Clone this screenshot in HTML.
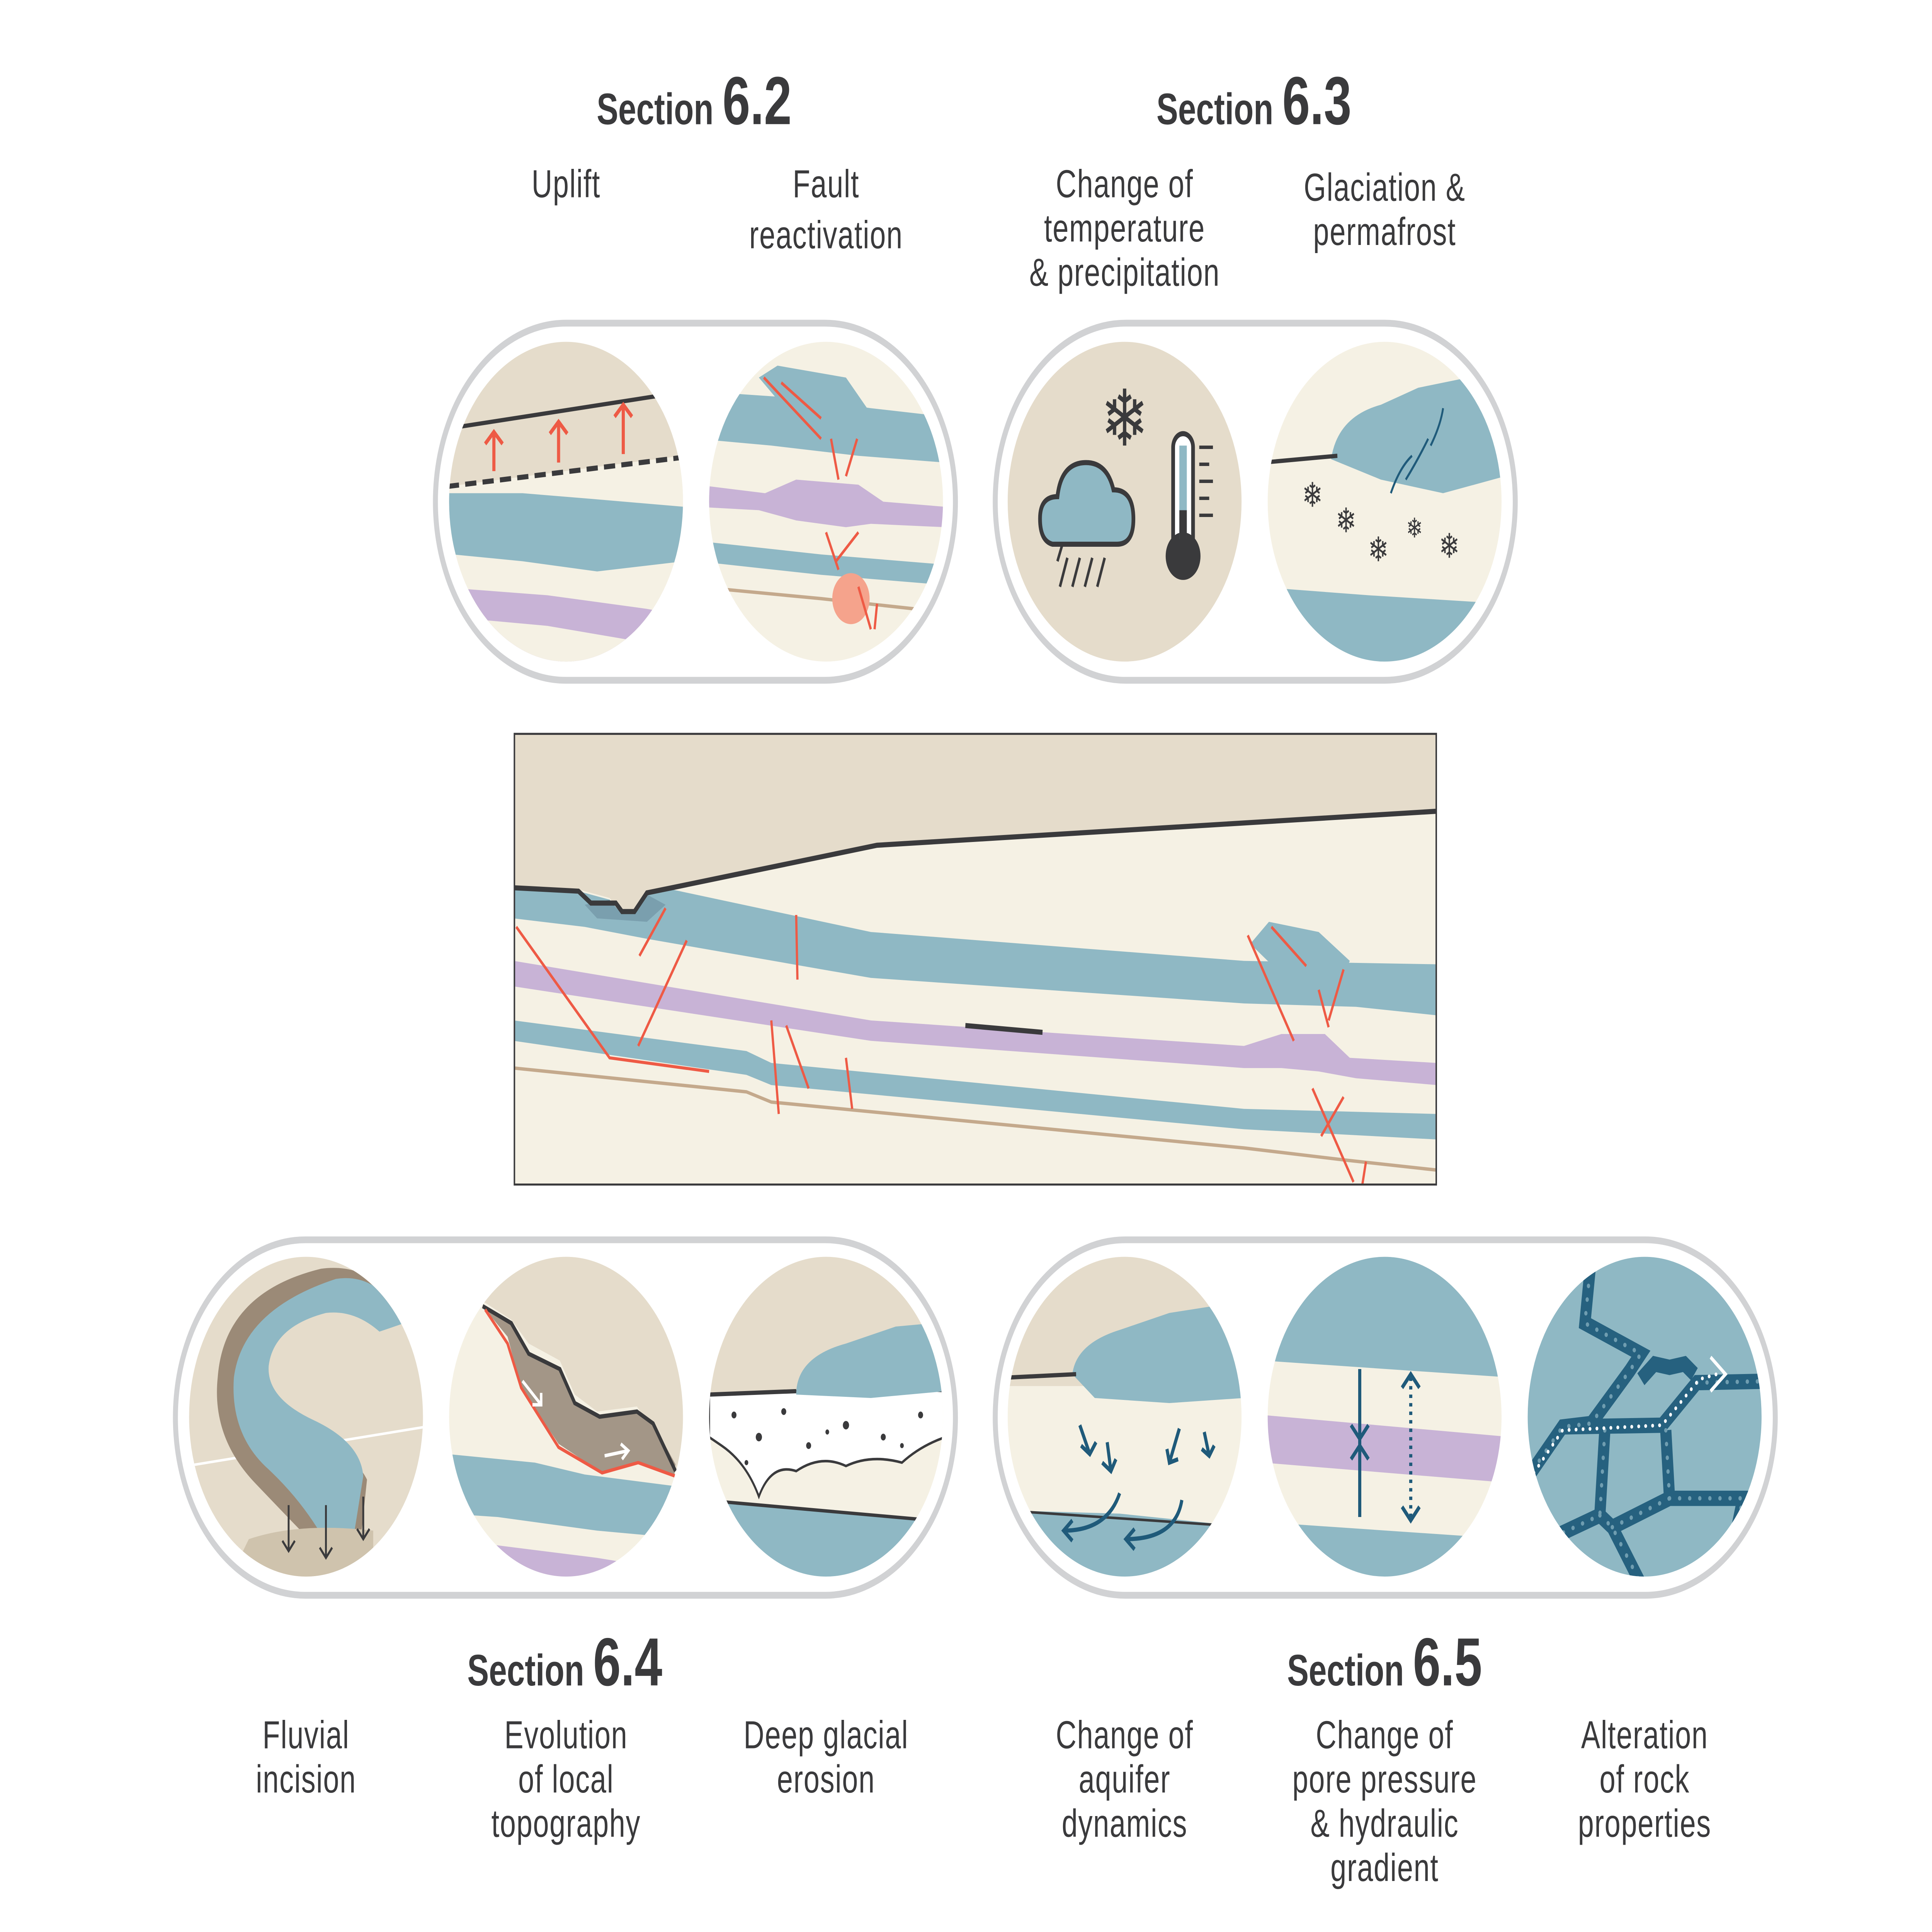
<!DOCTYPE html>
<html><head><meta charset="utf-8">
<style>
html,body{margin:0;padding:0;background:#fff;width:100%;height:100%;overflow:hidden;}
svg{display:block;position:absolute;left:0;top:0;width:100vw;height:100vh;}
text{font-family:"Liberation Sans",sans-serif;fill:#3a3a3c;}
.lab{font-size:23px;text-anchor:middle;letter-spacing:0.5px;}
.sec{font-weight:bold;text-anchor:middle;}
</style></head>
<body>
<svg viewBox="0 0 1553 1136" preserveAspectRatio="none" xmlns="http://www.w3.org/2000/svg">
<defs>
<clipPath id="c1"><circle cx="455" cy="295" r="94"/></clipPath>
<clipPath id="c2"><circle cx="664" cy="295" r="94"/></clipPath>
<clipPath id="c3"><circle cx="904" cy="295" r="94"/></clipPath>
<clipPath id="c4"><circle cx="1113" cy="295" r="94"/></clipPath>
<clipPath id="d1"><circle cx="246" cy="833" r="94"/></clipPath>
<clipPath id="d2"><circle cx="455" cy="833" r="94"/></clipPath>
<clipPath id="d3"><circle cx="664" cy="833" r="94"/></clipPath>
<clipPath id="d4"><circle cx="904" cy="833" r="94"/></clipPath>
<clipPath id="d5"><circle cx="1113" cy="833" r="94"/></clipPath>
<clipPath id="d6"><circle cx="1322" cy="833" r="94"/></clipPath>
<clipPath id="main"><rect x="414" y="432" width="740" height="264"/></clipPath>
</defs>
<rect width="1553" height="1136" fill="#fff"/>

<text x="558" y="73" class="sec"><tspan font-size="26">Section </tspan><tspan font-size="40">6.2</tspan></text>
<text x="1008" y="73" class="sec"><tspan font-size="26">Section </tspan><tspan font-size="40">6.3</tspan></text>
<text x="454" y="991" class="sec"><tspan font-size="26">Section </tspan><tspan font-size="40">6.4</tspan></text>
<text x="1113" y="991" class="sec"><tspan font-size="26">Section </tspan><tspan font-size="40">6.5</tspan></text>

<text class="lab" x="455" y="116">Uplift</text>
<text class="lab" x="664" y="116">Fault</text>
<text class="lab" x="664" y="146">reactivation</text>
<text class="lab" x="904" y="116">Change of</text>
<text class="lab" x="904" y="142">temperature</text>
<text class="lab" x="904" y="168">&amp; precipitation</text>
<text class="lab" x="1113" y="118">Glaciation &amp;</text>
<text class="lab" x="1113" y="144">permafrost</text>

<text class="lab" x="246" y="1028">Fluvial</text>
<text class="lab" x="246" y="1054">incision</text>
<text class="lab" x="455" y="1028">Evolution</text>
<text class="lab" x="455" y="1054">of local</text>
<text class="lab" x="455" y="1080">topography</text>
<text class="lab" x="664" y="1028">Deep glacial</text>
<text class="lab" x="664" y="1054">erosion</text>
<text class="lab" x="904" y="1028">Change of</text>
<text class="lab" x="904" y="1054">aquifer</text>
<text class="lab" x="904" y="1080">dynamics</text>
<text class="lab" x="1113" y="1028">Change of</text>
<text class="lab" x="1113" y="1054">pore pressure</text>
<text class="lab" x="1113" y="1080">&amp; hydraulic</text>
<text class="lab" x="1113" y="1106">gradient</text>
<text class="lab" x="1322" y="1028">Alteration</text>
<text class="lab" x="1322" y="1054">of rock</text>
<text class="lab" x="1322" y="1080">properties</text>

<rect x="350" y="190" width="418" height="210" rx="105" fill="#fff" stroke="#d1d2d4" stroke-width="4"/>
<rect x="800" y="190" width="418" height="210" rx="105" fill="#fff" stroke="#d1d2d4" stroke-width="4"/>
<rect x="141" y="729" width="627" height="209" rx="104.5" fill="#fff" stroke="#d1d2d4" stroke-width="4"/>
<rect x="800" y="729" width="627" height="209" rx="104.5" fill="#fff" stroke="#d1d2d4" stroke-width="4"/>

<g clip-path="url(#c1)">
<rect x="350" y="190" width="220" height="220" fill="#e5dccb"/>
<polygon points="350,287 548,268 560,268 560,400 350,400" fill="#f5f1e4"/>
<path d="M350,290 L420,290 L470,293 L550,298 L550,330 L480,336 L420,330 L350,325 Z" fill="#8fb8c4"/>
<path d="M350,345 L440,350 L520,358 L550,362 L550,400 L350,400 Z" fill="#c8b3d6"/>
<path d="M350,362 L440,368 L520,378 L550,385 L550,400 L350,400 Z" fill="#f5f1e4"/>
<line x1="360" y1="252" x2="527" y2="233" stroke="#3a3a3c" stroke-width="2.5"/>
<line x1="360" y1="286" x2="548" y2="269" stroke="#3a3a3c" stroke-width="3" stroke-dasharray="9,5"/>
<g stroke="#ee5a45" stroke-width="2.5" fill="none">
<path d="M397,277 V254 M390,261 L397,254 L404,261"/>
<path d="M449,272 V248 M442,255 L449,248 L456,255"/>
<path d="M501,267 V238 M494,245 L501,238 L508,245"/>
</g>
</g>

<g clip-path="url(#c2)">
<rect x="560" y="190" width="220" height="220" fill="#f5f1e4"/>
<path d="M560,230 L640,234 L700,240 L760,245 L760,272 L690,268 L620,262 L560,258 Z" fill="#8fb8c4"/>
<path d="M610,222 L625,215 L680,222 L697,240 L680,258 L640,248 Z" fill="#8fb8c4"/>
<path d="M560,285 L615,290 L640,282 L690,285 L710,295 L760,298 L760,310 L700,308 L680,310 L640,306 L610,300 L560,298 Z" fill="#c8b3d6"/>
<path d="M560,318 L660,326 L760,332 L760,344 L660,338 L560,330 Z" fill="#8fb8c4"/>
<path d="M560,345 L660,352 L760,360" stroke="#c4a98c" stroke-width="2" fill="none"/>
<circle cx="684" cy="352" r="15" fill="#f5a38c"/>
<g stroke="#ee5a45" stroke-width="1.8">
<line x1="614" y1="222" x2="660" y2="258"/><line x1="628" y1="225" x2="660" y2="246"/>
<line x1="668" y1="258" x2="674" y2="282"/><line x1="689" y1="258" x2="680" y2="280"/>
<line x1="664" y1="313" x2="674" y2="335"/><line x1="690" y1="313" x2="672" y2="330"/>
<line x1="690" y1="345" x2="700" y2="370"/><line x1="705" y1="355" x2="703" y2="370"/>
</g>
</g>

<g clip-path="url(#c3)">
<rect x="800" y="190" width="220" height="220" fill="#e5dccb"/>
</g>
<text x="904" y="262" font-size="46" text-anchor="middle">❄</text>
<path d="M846,320 Q836,318 836,305 Q836,292 850,292 Q853,272 873,272 Q890,272 895,288 Q910,288 911,303 Q912,320 898,320 Z" fill="#8fb8c4" stroke="#3a3a3c" stroke-width="3"/>
<g stroke="#3a3a3c" stroke-width="2"><line x1="858" y1="328" x2="852" y2="345"/><line x1="868" y1="328" x2="862" y2="345"/><line x1="878" y1="328" x2="872" y2="345"/><line x1="888" y1="328" x2="882" y2="345"/><line x1="854" y1="320" x2="850" y2="330"/></g>
<rect x="943" y="255" width="16" height="75" rx="8" fill="#fff" stroke="#3a3a3c" stroke-width="3"/>
<circle cx="951" cy="327" r="14" fill="#3a3a3c"/>
<rect x="948" y="262" width="6" height="55" fill="#8fb8c4"/>
<rect x="948" y="300" width="6" height="25" fill="#3a3a3c"/>
<g stroke="#3a3a3c" stroke-width="2"><line x1="964" y1="263" x2="975" y2="263"/><line x1="964" y1="273" x2="972" y2="273"/><line x1="964" y1="283" x2="975" y2="283"/><line x1="964" y1="293" x2="972" y2="293"/><line x1="964" y1="303" x2="975" y2="303"/></g>

<g clip-path="url(#c4)">
<rect x="1010" y="190" width="220" height="220" fill="#f5f1e4"/>
<path d="M1070,270 Q1075,245 1110,238 L1140,228 L1180,222 L1200,230 L1210,280 L1160,290 L1110,282 Z" fill="#8fb8c4"/>
<path d="M1010,345 L1100,350 L1210,355 L1210,400 L1010,400 Z" fill="#8fb8c4"/>
<line x1="1015" y1="272" x2="1075" y2="268" stroke="#3a3a3c" stroke-width="2.5"/>
<g stroke="#1f5a7a" stroke-width="1.5" fill="none"><path d="M1118,290 Q1125,275 1135,268"/><path d="M1130,282 Q1140,270 1148,258"/><path d="M1150,262 Q1158,250 1160,240"/></g>
</g>
<g font-size="20" text-anchor="middle"><text x="1055" y="298">❄</text><text x="1082" y="313">❄</text><text x="1108" y="330">❄</text><text x="1137" y="316" font-size="16">❄</text><text x="1165" y="328">❄</text></g>

<g clip-path="url(#main)">
<rect x="413" y="431" width="742" height="266" fill="#f5f1e4"/>
<polygon points="413,431 1155,431 1155,477 705,497 540,522 520,525 510,535 498,535 490,528 465,523 413,522" fill="#e5dccb"/>
<path d="M413,523 L465,524 L490,529 L498,536 L510,536 L520,526 L540,523 L700,548 L1000,565 L1155,567 L1155,597 L1090,592 L1000,590 L700,575 L520,552 L470,545 L413,540 Z" fill="#8fb8c4"/>
<path d="M470,532 L490,529 L498,536 L510,536 L520,526 L535,532 L520,542 L480,540 Z" fill="#7a9fae"/>
<path d="M413,565 L700,600 L1000,615 L1030,608 L1065,608 L1085,622 L1155,625 L1155,638 L1090,634 L1060,630 L1030,628 L1000,628 L700,612 L413,580 Z" fill="#c8b3d6"/>
<path d="M413,600 L600,618 L620,625 L1000,652 L1155,655 L1155,670 L1000,664 L620,638 L600,632 L413,612 Z" fill="#8fb8c4"/>
<path d="M1005,555 L1020,542 L1060,548 L1085,565 L1070,590 L1040,580 Z" fill="#8fb8c4"/>
<path d="M413,628 L600,642 L620,648 L1000,675 L1080,682 L1155,688" stroke="#c4a98c" stroke-width="2" fill="none"/>
<line x1="776" y1="603" x2="838" y2="607" stroke="#3a3a3c" stroke-width="3"/>
<g stroke="#ee5a45" stroke-width="1.8" fill="none">
<polyline points="415,545 490,622 570,630"/>
<line x1="514" y1="562" x2="535" y2="534"/>
<line x1="513" y1="615" x2="552" y2="553"/>
<line x1="640" y1="538" x2="641" y2="576"/>
<line x1="620" y1="600" x2="626" y2="655"/>
<line x1="632" y1="603" x2="650" y2="640"/>
<line x1="680" y1="622" x2="685" y2="652"/>
<line x1="1003" y1="550" x2="1040" y2="612"/>
<line x1="1022" y1="545" x2="1050" y2="568"/>
<line x1="1060" y1="582" x2="1068" y2="604"/>
<line x1="1080" y1="570" x2="1068" y2="600"/>
<line x1="1055" y1="640" x2="1088" y2="695"/>
<line x1="1080" y1="645" x2="1062" y2="668"/>
<line x1="1098" y1="683" x2="1095" y2="697"/>
</g>
<polyline points="413,522 465,524 475,531 495,531 500,536 510,536 520,525 540,522 705,497 1155,477" fill="none" stroke="#3a3a3c" stroke-width="3"/>
</g>
<rect x="413.5" y="431.5" width="741" height="265" fill="none" stroke="#3a3a3c" stroke-width="1.2"/>

<g clip-path="url(#d1)">
<rect x="150" y="735" width="200" height="200" fill="#e5dccb"/>
<line x1="150" y1="862" x2="350" y2="838" stroke="#fff" stroke-width="1.5"/>
<path d="M258,746 Q300,742 318,770 L300,775 Q280,760 258,765 Q210,772 205,800 Q200,825 245,840 Q285,855 295,870 L290,905 L255,910 Q235,895 205,872 Q170,845 175,810 Q180,760 258,746 Z" fill="#9b8a77"/>
<path d="M270,752 Q305,748 325,778 L305,783 Q285,770 262,772 Q220,780 216,803 Q214,822 252,835 Q290,848 292,868 L285,900 L258,902 Q240,880 213,862 Q185,842 188,810 Q195,770 270,752 Z" fill="#8fb8c4"/>
<path d="M200,905 Q240,895 300,900 L300,935 L180,935 Z" fill="#cfc3ad"/>
<g stroke="#3a3a3c" stroke-width="1.5" fill="none">
<path d="M232,885 V912 M227,906 L232,912 L237,906"/>
<path d="M262,885 V916 M257,910 L262,916 L267,910"/>
<path d="M292,880 V905 M287,899 L292,905 L297,899"/>
</g>
</g>

<g clip-path="url(#d2)">
<rect x="360" y="735" width="200" height="200" fill="#f5f1e4"/>
<path d="M360,735 L550,735 L550,900 L543,861 L512,827 L480,830 L462,820 L450,800 L425,790 L411,776 L390,766 L360,750 Z" fill="#e5dccb"/>
<path d="M388,768 L411,778 L425,796 L450,805 L462,825 L482,833 L512,830 L525,837 L543,861 L542,868 L513,860 L484,866 L449,849 L419,816 L408,786 Z" fill="#a39687"/>
<path d="M388,768 L411,778 L425,796 L450,805 L462,825 L482,833 L512,830 L525,837 L543,865" fill="none" stroke="#3a3a3c" stroke-width="2.5"/>
<path d="M390,770 L408,790 L419,816 L449,851 L484,866 L513,860 L543,868" fill="none" stroke="#ee5a45" stroke-width="2"/>
<path d="M360,855 L430,860 L470,867 L555,875 L555,905 L480,900 L400,892 L360,890 Z" fill="#8fb8c4"/>
<path d="M360,905 L480,916 L555,925 L555,940 L360,940 Z" fill="#c8b3d6"/>
<g stroke="#fff" stroke-width="2" fill="none"><path d="M420,812 L435,826 M428,826 H435 V819"/><path d="M486,856 L505,853 M499,849 L505,853 L500,858"/></g>
</g>

<g clip-path="url(#d3)">
<rect x="565" y="735" width="200" height="200" fill="#f5f1e4"/>
<rect x="565" y="735" width="200" height="85" fill="#e5dccb"/>
<path d="M570,820 L640,818 L700,815 L760,818 L760,845 Q740,850 725,860 Q700,855 680,862 Q660,855 640,865 Q620,860 610,880 Q600,860 580,850 L570,845 Z" fill="#fff" stroke="#3a3a3c" stroke-width="1.5"/>
<g fill="#3a3a3c"><circle cx="590" cy="832" r="2"/><circle cx="610" cy="845" r="2.5"/><circle cx="630" cy="830" r="2"/><circle cx="650" cy="850" r="2"/><circle cx="680" cy="838" r="2.5"/><circle cx="710" cy="845" r="2"/><circle cx="740" cy="832" r="2"/><circle cx="600" cy="860" r="1.5"/><circle cx="665" cy="842" r="1.5"/><circle cx="725" cy="850" r="1.5"/></g>
<path d="M640,820 Q640,798 680,790 L720,780 L750,778 L760,790 L760,818 L700,822 Z" fill="#8fb8c4"/>
<line x1="570" y1="820" x2="640" y2="818" stroke="#3a3a3c" stroke-width="2.5"/>
<path d="M565,882 L660,888 L765,895 L765,935 L565,935 Z" fill="#8fb8c4"/>
<line x1="565" y1="882" x2="765" y2="895" stroke="#3a3a3c" stroke-width="2"/>
</g>

<g clip-path="url(#d4)">
<rect x="805" y="735" width="200" height="200" fill="#f5f1e4"/>
<rect x="805" y="735" width="200" height="80" fill="#e5dccb"/>
<path d="M862,808 Q865,790 900,782 L940,772 L975,768 L1000,800 L1000,822 L940,825 L880,822 Z" fill="#8fb8c4"/>
<line x1="810" y1="810" x2="865" y2="808" stroke="#3a3a3c" stroke-width="2.5"/>
<path d="M805,888 L900,890 L1005,898 L1005,935 L805,935 Z" fill="#8fb8c4"/>
<line x1="805" y1="888" x2="1005" y2="898" stroke="#3a3a3c" stroke-width="1.5"/>
<g stroke="#1f5a7a" stroke-width="2.5" fill="none">
<path d="M868,838 L876,855 M869,850 L876,855 L881,848"/>
<path d="M890,848 L893,865 M886,860 L893,865 L897,858"/>
<path d="M948,840 L940,860 M938,852 L940,860 L947,858"/>
<path d="M968,842 L972,856 M966,852 L972,856 L976,850"/>
<path d="M900,878 Q890,900 855,900 M862,894 L855,900 L862,906"/>
<path d="M950,882 Q945,905 905,905 M912,899 L905,905 L912,911"/>
</g>
</g>

<g clip-path="url(#d5)">
<rect x="1015" y="735" width="200" height="200" fill="#f5f1e4"/>
<path d="M1015,735 L1215,735 L1215,810 L1015,800 Z" fill="#8fb8c4"/>
<path d="M1015,832 L1215,845 L1215,872 L1015,860 Z" fill="#c8b3d6"/>
<path d="M1015,895 L1215,905 L1215,935 L1015,935 Z" fill="#8fb8c4"/>
<g stroke="#1f5a7a" stroke-width="2.5" fill="none">
<path d="M1093,805 V892 M1086,838 L1093,846 L1100,838 M1086,858 L1093,850 L1100,858"/>
<path d="M1134,810 V892" stroke-dasharray="2,3"/>
<path d="M1127,816 L1134,808 L1141,816 M1127,886 L1134,894 L1141,886"/>
</g>
</g>

<g clip-path="url(#d6)">
<rect x="1225" y="735" width="200" height="200" fill="#8fb8c4"/>
<g fill="none" stroke="#26617f" stroke-width="9" stroke-linejoin="miter">
<polyline points="1279,740 1274,778 1319,796 1310,806 1279,837 1256,839 1225,872"/>
<polyline points="1256,839 1336,838 1364,813 1430,812"/>
<polyline points="1319,811 1330,802 1342,804 1354,802 1362,808"/>
<polyline points="1290,841 1286,891 1225,912"/>
<polyline points="1286,891 1296,898 1325,940"/>
<polyline points="1296,898 1342,881 1339,841"/>
<polyline points="1342,881 1401,881 1390,920"/>
</g>
<g fill="none" stroke="#6f9db0" stroke-width="2.6" stroke-linecap="round" stroke-dasharray="0.1,8">
<polyline points="1279,740 1274,778 1319,796 1310,806 1279,837 1256,839 1225,872"/>
<polyline points="1290,841 1286,891 1225,912"/>
<polyline points="1286,891 1296,898 1325,940"/>
<polyline points="1296,898 1342,881 1339,841"/>
<polyline points="1342,881 1401,881 1390,920"/>
<polyline points="1364,813 1430,812"/>
</g>
<polyline points="1233,866 1256,841 1336,838 1366,811 1380,808" fill="none" stroke="#fff" stroke-width="2.2" stroke-linecap="round" stroke-dasharray="0.1,5.5"/>
<path d="M1375,798 L1387,808 L1375,818" stroke="#fff" stroke-width="2.2" fill="none"/>
</g>
</svg>
</body></html>
